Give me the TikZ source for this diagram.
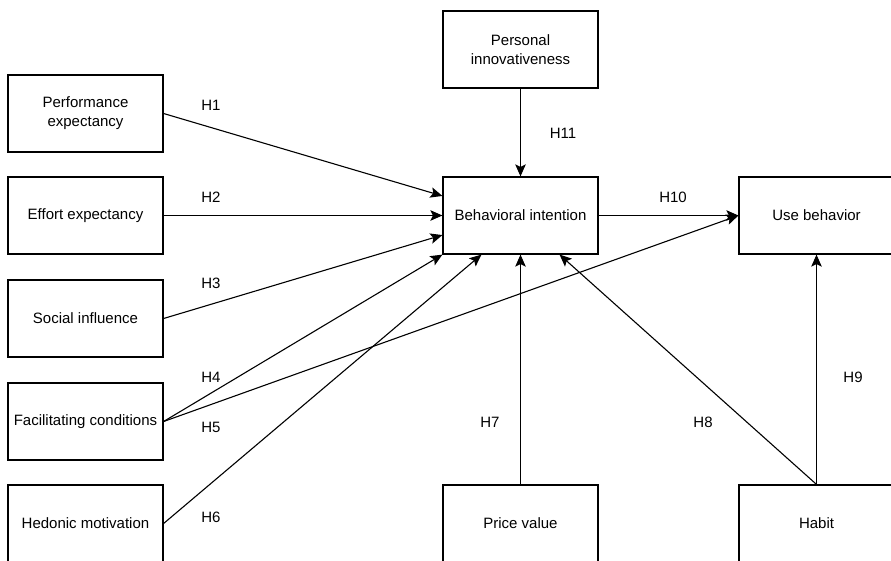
\documentclass[tikz,border=0pt]{standalone}
\usepackage{fontspec}
\setmainfont{Liberation Sans}
\usetikzlibrary{arrows.meta,calc}
\tikzset{
  box/.style={draw, line width=1.2pt, minimum width=155pt, minimum height=77pt, align=center, inner sep=2pt, font=\fontsize{15}{19}\selectfont},
  conn/.style={line width=1.1pt, -{Stealth[length=12pt,width=10.5pt,inset=2.5pt]}},
  lbl/.style={font=\fontsize{15}{18}\selectfont, inner sep=0pt}
}
\begin{document}
\begin{tikzpicture}[x=1pt,y=-1pt]
\useasboundingbox (0,0) rectangle (891,560);
\clip (0,0) rectangle (891,560);
\fill[white] (0,0) rectangle (891,560);
% left column
\node[box] (perf) at (85.5,113.5) {Performance\\expectancy};
\node[box] (eff) at (85.5,215.5) {Effort expectancy};
\node[box] (soc) at (85.5,318.5) {Social influence};
\node[box] (fac) at (85.5,421.5) {Facilitating conditions};
\node[box] (hed) at (85.5,523.5) {Hedonic motivation};
% middle
\node[box] (pi) at (520.5,49.5) {Personal\\innovativeness};
\node[box] (bi) at (520.5,215.5) {Behavioral intention};
\node[box] (pv) at (520.5,523.5) {Price value};
% right
\node[box] (ub) at (816.5,215.5) {Use behavior};
\node[box] (hab) at (816.5,523.5) {Habit};
% anchor points
\coordinate (biL1) at ($(bi.north west)!0.25!(bi.south west)$);
\coordinate (biL3) at ($(bi.north west)!0.75!(bi.south west)$);
\coordinate (biB1) at ($(bi.south west)!0.25!(bi.south east)$);
\coordinate (biB3) at ($(bi.south west)!0.75!(bi.south east)$);
% connectors
\draw[conn] (perf.east) -- (biL1);
\draw[conn] (eff.east) -- (bi.west);
\draw[conn] (soc.east) -- (biL3);
\draw[conn] (fac.east) -- (bi.south west);
\draw[conn] (fac.east) -- (ub.west);
\draw[conn] (hed.east) -- (biB1);
\draw[conn] (pv.north) -- (bi.south);
\draw[conn] (hab.north) -- (biB3);
\draw[conn] (hab.north) -- (ub.south);
\draw[conn] (pi.south) -- (bi.north);
\draw[conn] (bi.east) -- (ub.west);
% labels
\node[lbl] (h1) at (211,105) {H1};
\node[lbl] (h2) at (211,197) {H2};
\node[lbl] (h3) at (211,283) {H3};
\node[lbl] (h4) at (211,377) {H4};
\node[lbl] (h5) at (211,427) {H5};
\node[lbl] (h6) at (211,517) {H6};
\node[lbl] (h7) at (490,422) {H7};
\node[lbl] (h8) at (703,422) {H8};
\node[lbl] (h9) at (853,377) {H9};
\node[lbl] (h10) at (673,197) {H10};
\node[lbl] (h11) at (563,133) {H11};
\end{tikzpicture}
\end{document}
